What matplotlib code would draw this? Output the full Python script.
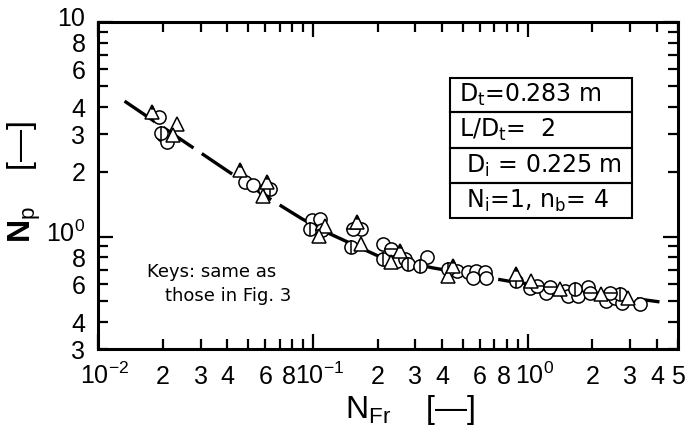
import matplotlib
matplotlib.use("Agg")
import matplotlib.pyplot as plt
from matplotlib import font_manager
from matplotlib.ticker import FixedLocator, FixedFormatter
from matplotlib.patches import Rectangle
from matplotlib.path import Path
from matplotlib.transforms import ScaledTranslation

# ---------------- data ----------------
line_x = [0.0133, 0.0246, 0.041, 0.065, 0.089, 0.12, 0.15, 0.2, 0.36, 0.82, 4.1]
line_y = [4.27, 2.81, 1.99, 1.47, 1.21, 1.03, 0.93, 0.815, 0.716, 0.62, 0.497]

circ_x = [0.0193, 0.0201, 0.0209, 0.0483, 0.0527, 0.0598, 0.0986, 0.108, 0.168,
          0.212, 0.245, 0.268, 0.338, 0.466, 0.528, 0.577, 0.631, 0.557, 0.642,
          1.02, 1.22, 1.49, 1.54, 1.71, 1.91, 2.32, 2.54, 2.73, 3.32]
circ_y = [3.61, 2.96, 2.76, 1.79, 1.73, 1.64, 1.19, 1.21, 1.09,
          0.924, 0.773, 0.787, 0.80, 0.694, 0.681, 0.694, 0.681, 0.645, 0.641,
          0.576, 0.549, 0.560, 0.530, 0.530, 0.584, 0.502, 0.520, 0.493, 0.488]

vcirc_x = [0.0196, 0.0631, 0.0969, 0.151, 0.212, 0.277, 0.315, 0.426, 0.886, 1.65, 2.68]
vcirc_y = [3.05, 1.67, 1.09, 0.891, 0.787, 0.745, 0.732, 0.706, 0.623, 0.570, 0.540]

hcirc_x = [0.110, 0.154, 0.232, 1.10, 1.27, 1.94, 2.41]
hcirc_y = [1.07, 1.09, 0.876, 0.590, 0.584, 0.549, 0.549]

tri_x = [0.0232, 0.0223, 0.0584, 0.114, 0.107, 0.168, 0.232, 0.426, 1.04, 1.41, 2.20, 2.93]
tri_y = [3.36, 2.96, 1.55, 1.12, 1.01, 0.924, 0.758, 0.657, 0.623, 0.570, 0.540, 0.520]

ttri_x = [0.0178, 0.0457, 0.0609, 0.161, 0.254, 0.450, 0.886]
ttri_y = [3.81, 2.05, 1.79, 1.17, 0.86, 0.732, 0.669]

x_major = [0.01, 0.1, 1.0]
x_major_labels = [r"$10^{-2}$", r"$10^{-1}$", r"$10^{0}$"]
x_minor = [0.02, 0.03, 0.04, 0.05, 0.06, 0.07, 0.08, 0.09,
           0.2, 0.3, 0.4, 0.5, 0.6, 0.7, 0.8, 0.9,
           2, 3, 4, 5]
x_minor_labels = ["2", "3", "4", "", "6", "", "8", "",
                  "2", "3", "4", "", "6", "", "8", "",
                  "2", "3", "4", "5"]
y_major = [1.0, 10.0]
y_major_labels = [r"$10^{0}$", "10"]
y_minor = [0.3, 0.4, 0.5, 0.6, 0.7, 0.8, 0.9, 2, 3, 4, 5, 6, 7, 8, 9]
y_minor_labels = ["3", "4", "", "6", "", "8", "", "2", "3", "4", "", "6", "", "8", ""]

box_lines = [r"D$_t$=0.283 m", r"L/D$_t$=  2", r" D$_i$ = 0.225 m", r" N$_i$=1, n$_b$= 4"]

# ---------------- fonts ----------------
names = {f.name for f in font_manager.fontManager.ttflist}
narrow = "Liberation Sans Narrow" if "Liberation Sans Narrow" in names else "Liberation Sans"
plt.rcParams["font.family"] = [narrow, "DejaVu Sans"]
plt.rcParams["mathtext.fontset"] = "custom"
plt.rcParams["mathtext.rm"] = narrow
plt.rcParams["mathtext.it"] = narrow
plt.rcParams["mathtext.bf"] = narrow + ":bold"
plt.rcParams["mathtext.default"] = "regular"

fig = plt.figure(figsize=(6.87, 4.41), dpi=100)
ax = fig.add_axes([0.1426, 0.2086, 0.8443, 0.7422])
ax.set_xscale("log")
ax.set_yscale("log")
ax.set_xlim(0.01, 5)
ax.set_ylim(0.3, 10)

# correlation line
ax.plot(line_x, line_y, color="black", lw=2.4, linestyle=(0, (11, 3)),
        dash_capstyle="butt", zorder=2)

ms = 9.5
mew = 1.1
kw = dict(linestyle="none", markersize=ms, markeredgewidth=mew,
          markeredgecolor="black", zorder=3)
ax.plot(circ_x, circ_y, marker="o", markerfacecolor="white", **kw)
ax.plot(vcirc_x, vcirc_y, marker="o", markerfacecolor="white", **kw)
ax.plot(vcirc_x, vcirc_y, marker="|", color="black", **kw)
ax.plot(hcirc_x, hcirc_y, marker="o", markerfacecolor="white", **kw)
ax.plot(hcirc_x, hcirc_y, marker="_", color="black", **kw)
ax.plot(tri_x, tri_y, marker="^", markerfacecolor="white", **kw)
ax.plot(ttri_x, ttri_y, marker="^", markerfacecolor="white", **kw)
tip_marker = Path([(0, 0.5), (-0.12, 0.26), (0.12, 0.26), (0, 0.5), (0, -0.5)],
                  [Path.MOVETO, Path.LINETO, Path.LINETO, Path.CLOSEPOLY, Path.MOVETO])
ax.plot(ttri_x, ttri_y, linestyle="none", marker=tip_marker,
        markersize=ms, markerfacecolor="black", markeredgecolor="black",
        markeredgewidth=0.8, zorder=4)

# axes styling
for s in ax.spines.values():
    s.set_linewidth(2.2)
ax.xaxis.set_major_locator(FixedLocator(x_major))
ax.xaxis.set_major_formatter(FixedFormatter(x_major_labels))
ax.xaxis.set_minor_locator(FixedLocator(x_minor))
ax.xaxis.set_minor_formatter(FixedFormatter(x_minor_labels))
ax.yaxis.set_major_locator(FixedLocator(y_major))
ax.yaxis.set_major_formatter(FixedFormatter(y_major_labels))
ax.yaxis.set_minor_locator(FixedLocator(y_minor))
ax.yaxis.set_minor_formatter(FixedFormatter(y_minor_labels))

ax.tick_params(which="both", direction="in", top=True, right=True,
               width=1.6, labelsize=18)
ax.tick_params(which="major", length=11)
ax.tick_params(which="minor", length=7)
ax.tick_params(axis="x", which="both", pad=25)
ax.tick_params(axis="y", which="both", pad=9)
for lab in ax.get_xticklabels(which="both"):
    lab.set_verticalalignment("baseline")

# nudge crowded labels slightly so they do not collide with neighbours
for lab in ax.get_xticklabels(which="major"):
    lab.set_transform(lab.get_transform() + ScaledTranslation(5 / 72, 0, fig.dpi_scale_trans))
minor_labs = ax.get_xticklabels(which="minor")
for idx, txt in enumerate(x_minor_labels):
    if txt == "8":
        lab = minor_labs[idx]
        lab.set_transform(lab.get_transform() + ScaledTranslation(-2 / 72, 0, fig.dpi_scale_trans))
for lab in ax.get_yticklabels(which="major"):
    lab.set_transform(lab.get_transform() + ScaledTranslation(0, 4 / 72, fig.dpi_scale_trans))

# axis labels
fig.text(24 / 687, 1 - 182 / 441, r"$\mathbf{N}_{p}$    [—]", rotation=90,
         ha="center", va="center", fontsize=23)
fig.text(410 / 687, 1 - 410 / 441, r"N$_{Fr}$    [—]", ha="center", va="center",
         fontsize=23)

# parameter box
bx0, bx1 = 0.607, 0.921
rows = [0.828, 0.724, 0.614, 0.507, 0.400]
for i, t in enumerate(box_lines):
    ax.add_patch(Rectangle((bx0, rows[i + 1]), bx1 - bx0, rows[i] - rows[i + 1],
                           transform=ax.transAxes, fill=False, lw=1.5,
                           edgecolor="black", zorder=5))
    ax.text(0.622, (rows[i] + rows[i + 1]) / 2, t, transform=ax.transAxes,
            ha="left", va="center", fontsize=17, family=["DejaVu Sans"], zorder=6)

ax.text(0.084, 0.235, "Keys: same as", transform=ax.transAxes, ha="left",
        va="center", fontsize=13, family=["DejaVu Sans"])
ax.text(0.116, 0.162, "those in Fig. 3", transform=ax.transAxes, ha="left",
        va="center", fontsize=13, family=["DejaVu Sans"])

fig.savefig("out.png", dpi=100)
